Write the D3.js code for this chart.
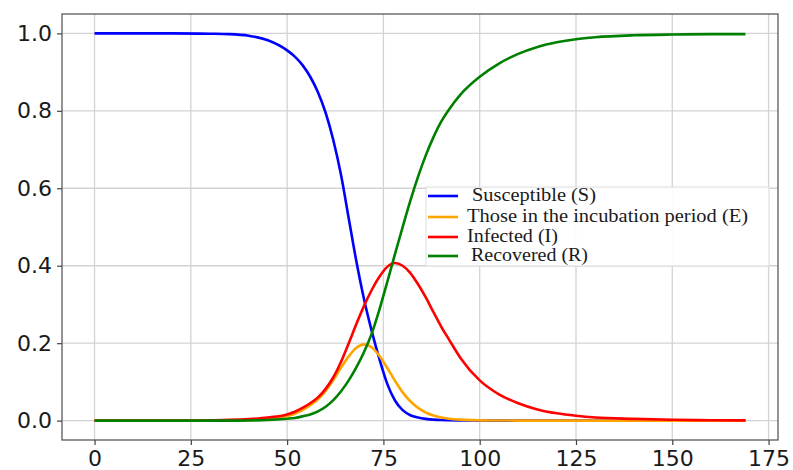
<!DOCTYPE html>
<html><head><meta charset="utf-8">
<script src="https://cdn.jsdelivr.net/npm/d3@7"></script>
<style>html,body{margin:0;padding:0;background:#fff;}svg{display:block;}</style>
</head><body>
<svg id="c" width="793" height="470"></svg>
<script>
const days        = [0,10,20,30,35,40,45,50,52,54,56,58,60,62,64,66,68,70,72,74,76,78,80,82,84,86,88,90,92,95,100,105,110,115,120,125,130,140,150,160,169];
const susceptible = [1.0,1.0,1.0,0.999,0.998,0.994,0.982,0.956,0.94,0.918,0.888,0.848,0.795,0.724,0.634,0.522,0.41,0.312,0.23,0.158,0.095,0.052,0.027,0.014,0.008,0.0045,0.0025,0.0015,0.001,0.0005,0.0002,0.0001,0,0,0,0,0,0,0,0,0];
const exposed     = [0,0,0,0,0.001,0.002,0.006,0.012,0.018,0.027,0.04,0.055,0.077,0.105,0.137,0.166,0.188,0.197,0.189,0.167,0.136,0.103,0.073,0.05,0.033,0.021,0.013,0.008,0.005,0.0025,0.0008,0.0003,0.0001,0,0,0,0,0,0,0,0];
const infected    = [0,0,0,0.001,0.002,0.004,0.008,0.016,0.023,0.033,0.045,0.06,0.082,0.112,0.152,0.2,0.25,0.297,0.338,0.372,0.397,0.407,0.4,0.381,0.352,0.318,0.28,0.243,0.21,0.162,0.104,0.068,0.045,0.029,0.019,0.0125,0.008,0.0045,0.0022,0.0011,0.0006];
const recovered   = [0,0,0,0,0,0.0005,0.0015,0.005,0.007,0.011,0.016,0.024,0.036,0.053,0.076,0.104,0.138,0.178,0.226,0.288,0.358,0.43,0.5,0.568,0.63,0.685,0.732,0.772,0.803,0.842,0.888,0.922,0.947,0.965,0.977,0.985,0.99,0.995,0.997,0.998,0.998];
const seriesNames = ["Susceptible (S)","Those in the incubation period (E)","Infected (I)","Recovered (R)"];
const seriesColors = ["#0000ff","#ffa500","#ff0000","#008000"];
const xTicks = [0,25,50,75,100,125,150,175];
const yTicks = [0.0,0.2,0.4,0.6,0.8,1.0];

const svg = d3.select("#c");
const L=62, R=778, T=14, B=440;
const x = d3.scaleLinear().domain([-8.45,177.45]).range([L,R]);
const y = d3.scaleLinear().domain([-0.05,1.05]).range([B,T]);

// grid
const g = svg.append("g");
g.selectAll(".gx").data(xTicks.filter(v=>x(v)<R)).enter().append("line")
  .attr("x1",d=>x(d)).attr("x2",d=>x(d)).attr("y1",T).attr("y2",B)
  .attr("stroke","#d3d3d3").attr("stroke-width",1.3);
g.selectAll(".gy").data(yTicks).enter().append("line")
  .attr("y1",d=>y(d)).attr("y2",d=>y(d)).attr("x1",L).attr("x2",R)
  .attr("stroke","#d3d3d3").attr("stroke-width",1.3);

// lines
const all = [susceptible,exposed,infected,recovered];
const line = d3.line().x((d,i)=>x(days[i])).y(d=>y(d)).curve(d3.curveMonotoneX);
all.forEach((s,k)=>{
  svg.append("path").attr("d",line(s)).attr("fill","none")
    .attr("stroke",seriesColors[k]).attr("stroke-width",2.6).attr("stroke-linejoin","round");
});

// frame
svg.append("rect").attr("x",L).attr("y",T).attr("width",R-L).attr("height",B-T)
  .attr("fill","none").attr("stroke","#5a5a5a").attr("stroke-width",1.3);

// axes
const xa = svg.append("g").attr("transform",`translate(0,${B})`)
  .call(d3.axisBottom(x).tickValues(xTicks).tickFormat(d3.format("d")).tickSize(5).tickPadding(5));
const ya = svg.append("g").attr("transform",`translate(${L},0)`)
  .call(d3.axisLeft(y).tickValues(yTicks).tickFormat(d3.format(".1f")).tickSize(5).tickPadding(5));
[xa,ya].forEach(a=>{
  a.select(".domain").remove();
  a.selectAll(".tick line").attr("stroke","#444").attr("stroke-width",1.2);
  a.selectAll(".tick text").attr("fill","#1a1a1a").style("font-family","'DejaVu Sans', sans-serif").style("font-size","22px");
});

// legend
const lg = svg.append("g");
lg.append("rect").attr("x",426).attr("y",187).attr("width",343).attr("height",79)
  .attr("fill","#fff").attr("fill-opacity",0.9).attr("stroke","#ddd").attr("stroke-width",1);
const legY = [196,217,237,256];
const legX = [472,467,467,471];
const legW = [124,281,91,117];
seriesNames.forEach((n,k)=>{
  lg.append("line").attr("x1",428).attr("x2",458).attr("y1",legY[k]).attr("y2",legY[k])
    .attr("stroke",seriesColors[k]).attr("stroke-width",2.6);
  lg.append("text").attr("x",legX[k]).attr("y",legY[k]+5).text(n)
    .attr("textLength",legW[k]).attr("lengthAdjust","spacingAndGlyphs")
    .style("font-family","'Liberation Serif','Times New Roman',serif").style("font-size","18px").attr("fill","#1a1a1a");
});
</script>
</body></html>
